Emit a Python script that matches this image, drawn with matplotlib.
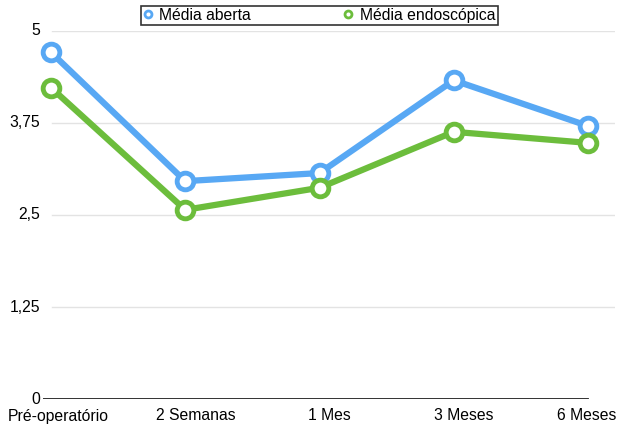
import matplotlib.pyplot as plt
from matplotlib.lines import Line2D

plt.rcParams['font.family'] = ['Liberation Sans', 'DejaVu Sans']

# Dados
periodos = ['Pré-operatório', '2 Semanas', '1 Mes', '3 Meses', '6 Meses']
media_aberta = [4.71, 2.96, 3.07, 4.33, 3.71]
media_endoscopica = [4.23, 2.57, 2.87, 3.63, 3.48]
yticks = [0, 1.25, 2.5, 3.75, 5]
ytick_labels = ['0', '1,25', '2,5', '3,75', '5']

azul = '#58a8f4'
verde = '#6cbd3c'

fig = plt.figure(figsize=(6.2, 4.26), dpi=100)
ax = fig.add_axes([43 / 620, 27 / 426, 572 / 620, 368 / 426])

x = list(range(len(periodos)))
x0, x1 = -8 / 134.25, 4 + 27 / 134.25

# grade horizontal
for yv in yticks[1:]:
    ax.plot([x0 + 9 / 134.25, x1], [yv, yv], color='#e3e3e3', lw=1, zorder=0)
ax.plot([x0, x[-1]], [0, 0], color='#222222', lw=1.3, zorder=1)

for serie, cor in [(media_aberta, azul), (media_endoscopica, verde)]:
    ax.plot(x, serie, color=cor, lw=4.5, marker='o', markersize=12,
            markerfacecolor='white', markeredgecolor=cor, markeredgewidth=3.5,
            clip_on=False, zorder=3)

ax.set_xlim(x0, x1)
ax.set_ylim(0, 5)
for s in ax.spines.values():
    s.set_visible(False)
ax.set_xticks([])
ax.set_yticks([])

for yv, lab in zip(yticks, ytick_labels):
    ax.text(x0 - 3 / 134.25, yv, lab, ha='right', va='center', fontsize=11.3)

# rótulos das categorias levemente deslocados para a direita
desloc = [7, 11, 10, 10, -1]
for xi, lab, dx in zip(x, periodos, desloc):
    ax.annotate(lab, (xi, 0), xytext=(dx, -17), textcoords='offset pixels',
                ha='center', va='center', fontsize=11.3, annotation_clip=False)

handles = [
    Line2D([], [], color='none', marker='o', markersize=5, markerfacecolor='white',
           markeredgecolor=azul, markeredgewidth=2),
    Line2D([], [], color='none', marker='o', markersize=5, markerfacecolor='white',
           markeredgecolor=verde, markeredgewidth=2),
]
leg = fig.legend(handles, ['Média aberta', 'Média endoscópica'], ncol=2,
                 loc='upper left', bbox_to_anchor=(141 / 620, 1 - 6 / 426),
                 fontsize=11.3, frameon=True, fancybox=False, borderpad=0.12,
                 handlelength=0.6, handletextpad=0.45, columnspacing=5.9,
                 borderaxespad=0)
leg.get_frame().set_edgecolor('black')
leg.get_frame().set_linewidth(1.2)

fig.savefig('out.png', dpi=100)
